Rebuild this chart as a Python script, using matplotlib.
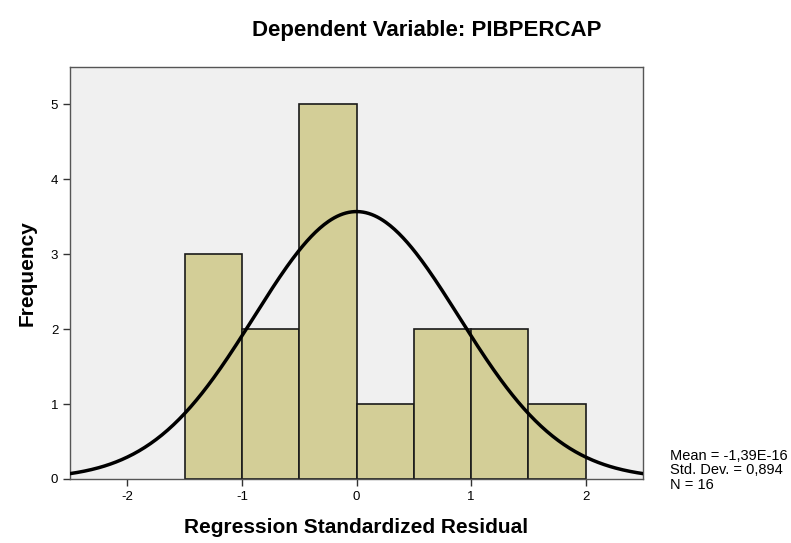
import numpy as np
import matplotlib.pyplot as plt

plt.rcParams['font.family'] = ['Liberation Sans', 'DejaVu Sans']
plt.rcParams['axes.unicode_minus'] = False

bin_edges = [-1.5, -1.0, -0.5, 0.0, 0.5, 1.0, 1.5, 2.0]
counts = [3, 2, 5, 1, 2, 2, 1]
mean = -1.39e-16
std_dev = 0.894
n = 16

fig = plt.figure(figsize=(7.91, 5.43), dpi=100)
ax = fig.add_axes([0.0885, 0.1179, 0.7244, 0.7587])
ax.set_facecolor('#F0F0F0')

widths = np.diff(bin_edges)
ax.bar(bin_edges[:-1], counts, width=widths, align='edge',
       color='#D3CE97', edgecolor='#1a1a1a', linewidth=1.2, zorder=2)

# normal curve scaled to counts
x = np.linspace(-2.5, 2.5, 400)
bw = widths[0]
y = n * bw / (std_dev * np.sqrt(2 * np.pi)) * np.exp(-0.5 * ((x - mean) / std_dev) ** 2)
ax.plot(x, y, color='black', linewidth=2.5, zorder=3)

ax.set_xlim(-2.5, 2.5)
ax.set_ylim(0, 5.5)
ax.set_xticks([-2, -1, 0, 1, 2])
ax.set_yticks([0, 1, 2, 3, 4, 5])
ax.tick_params(direction='out', length=5, width=1, colors='#333333',
               labelsize=9.5, labelcolor='black')
for s in ax.spines.values():
    s.set_color('#555555')
    s.set_linewidth(1)

ax.set_xlabel('Regression Standardized Residual', fontsize=15, fontweight='bold', labelpad=11)
ax.set_ylabel('Frequency', fontsize=15, fontweight='bold', labelpad=10)
fig.text(0.539, 0.943, 'Dependent Variable: PIBPERCAP', ha='center', va='center',
         fontsize=16, fontweight='bold')
fig.text(0.847, 0.134, 'Mean = -1,39E-16\nStd. Dev. = 0,894\nN = 16',
         ha='left', va='center', fontsize=10.5, linespacing=1.05)

fig.savefig('out.png', dpi=100)
